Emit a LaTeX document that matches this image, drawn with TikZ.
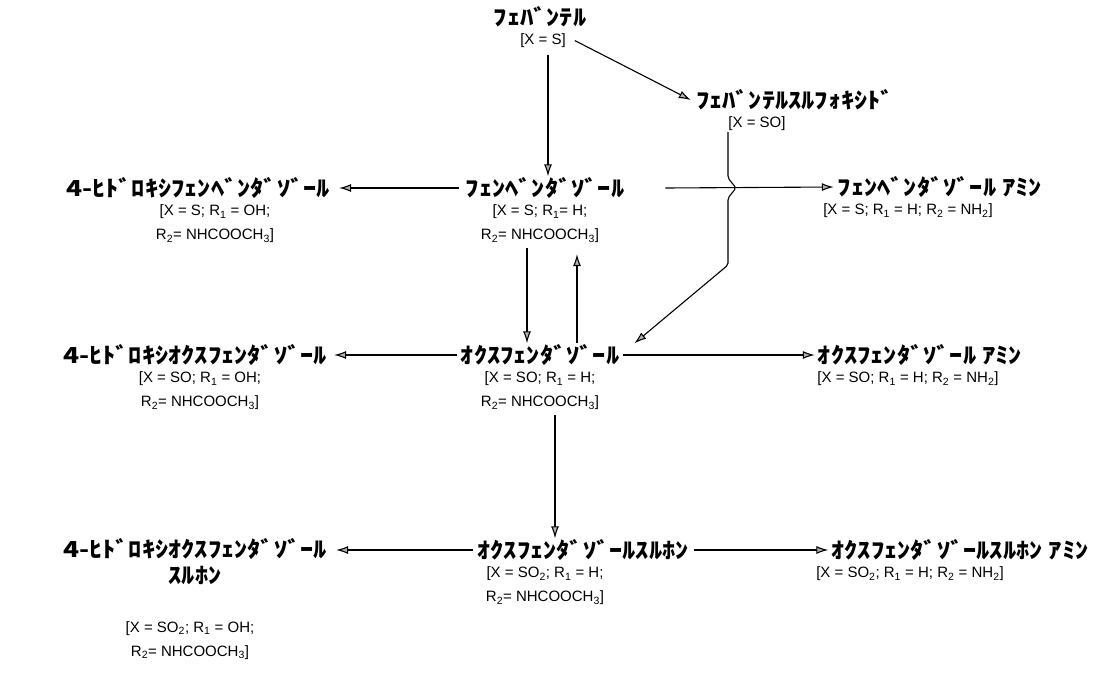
\documentclass[tikz,border=0pt]{standalone}
\usepackage{fontspec}
\setmainfont{Liberation Sans}
\newfontfamily\jpfont{Noto Sans CJK JP}[FakeStretch=1.2]
\usetikzlibrary{positioning,arrows.meta}

\begin{document}
\begin{tikzpicture}[x=1pt,y=-1pt,
      ttl/.style ={font=\jpfont\bfseries\fontsize{22}{26}\selectfont,inner sep=1pt,align=center},
      lbl/.style ={font=\fontsize{15}{24}\selectfont,inner sep=1pt,align=center},
      arr/.style ={-{Latex[length=12pt,width=8pt,fill=gray!60]},line width=1.1pt}]
      \useasboundingbox (0,0) rectangle (1115,680);
      % Helper macro: title and formula below it
      \newcommand{\cmpd}[6]{%
        \node[ttl] (#1) at (#2) {#3};
        \node[lbl,below=#5 of #1,xshift=#4] (#1l) {#6};
      }
      % Compounds
      \cmpd{fbt}{540,17}{ﾌｪﾊﾞﾝﾃﾙ}{3pt}{4pt}{[X = S]}
      \cmpd{fbtso}{795,100}{ﾌｪﾊﾞﾝﾃﾙｽﾙﾌｫｷｼﾄﾞ}{-38pt}{4pt}{[X = SO]}
      \cmpd{fbz}{545,188}{ﾌｪﾝﾍﾞﾝﾀﾞｿﾞｰﾙ}{-5pt}{4pt}{[X = S; R\textsubscript{1}= H;\\R\textsubscript{2}= NHCOOCH\textsubscript{3}]}
      \cmpd{ohfbz}{198,188}{4-ﾋﾄﾞﾛｷｼﾌｪﾝﾍﾞﾝﾀﾞｿﾞｰﾙ}{17pt}{4pt}{[X = S; R\textsubscript{1} = OH;\\R\textsubscript{2}= NHCOOCH\textsubscript{3}]}
      \cmpd{fbzam}{940,187}{ﾌｪﾝﾍﾞﾝﾀﾞｿﾞｰﾙ ｱﾐﾝ}{-32pt}{4pt}{[X = S; R\textsubscript{1} = H; R\textsubscript{2} = NH\textsubscript{2}]}
      \cmpd{ofz}{540,355}{ｵｸｽﾌｪﾝﾀﾞｿﾞｰﾙ}{0pt}{4pt}{[X = SO; R\textsubscript{1} = H;\\R\textsubscript{2}= NHCOOCH\textsubscript{3}]}
      \cmpd{ohofz}{195,355}{4-ﾋﾄﾞﾛｷｼｵｸｽﾌｪﾝﾀﾞｿﾞｰﾙ}{5pt}{4pt}{[X = SO; R\textsubscript{1} = OH;\\R\textsubscript{2}= NHCOOCH\textsubscript{3}]}
      \cmpd{ofzam}{920,355}{ｵｸｽﾌｪﾝﾀﾞｿﾞｰﾙ ｱﾐﾝ}{-12pt}{4pt}{[X = SO; R\textsubscript{1} = H; R\textsubscript{2} = NH\textsubscript{2}]}
      \cmpd{so2}{583,550}{ｵｸｽﾌｪﾝﾀﾞｿﾞｰﾙｽﾙﾎﾝ}{-38pt}{4pt}{[X = SO\textsubscript{2}; R\textsubscript{1} = H;\\R\textsubscript{2}= NHCOOCH\textsubscript{3}]}
      \cmpd{ohso2}{195,562}{4-ﾋﾄﾞﾛｷｼｵｸｽﾌｪﾝﾀﾞｿﾞｰﾙ\\ｽﾙﾎﾝ}{-5pt}{34pt}{[X = SO\textsubscript{2}; R\textsubscript{1} = OH;\\R\textsubscript{2}= NHCOOCH\textsubscript{3}]}
      \cmpd{so2am}{960,550}{ｵｸｽﾌｪﾝﾀﾞｿﾞｰﾙｽﾙﾎﾝ ｱﾐﾝ}{-50pt}{4pt}{[X = SO\textsubscript{2}; R\textsubscript{1} = H; R\textsubscript{2} = NH\textsubscript{2}]}
      \coordinate (ohso2e) at ([xshift=8pt]ohso2.east);
      \coordinate (hop) at (728,188);
      % Top arrows
      \draw[arr] ([xshift=5pt,yshift=-6pt]fbtl.south) -- ([xshift=5pt]fbtl.south |- fbz.north);
      \draw[arr] ([xshift=8pt]fbtl.east) -- ([xshift=-4pt]fbtso.west);
      % Fenbendazole row
      \draw[arr] ([xshift=-6pt]fbz.west) -- ([xshift=8pt]ohfbz.east);
      \draw[arr] ([xshift=40pt]fbz.east) -- ([xshift=-3pt]fbzam.west);
      % Sulfoxide down to oxfendazole, jumping over the row arrow
      \draw[arr,rounded corners=2pt] (fbtsol.south -| hop) -- ([yshift=10pt]hop)
        -- ([xshift=8pt]hop) -- ([yshift=-10pt]hop) -- (728,265) -- ([xshift=14pt]ofz.north east);
      % Fenbendazole <-> oxfendazole
      \draw[arr] ([xshift=-13pt,yshift=-4pt]fbzl.south) -- ([xshift=-13pt]fbzl.south |- ofz.north);
      \draw[arr] ([xshift=37pt]fbzl.south |- ofz.north) -- ([xshift=37pt,yshift=-10pt]fbzl.south);
      % Oxfendazole row
      \draw[arr] ([xshift=-3pt]ofz.west) -- ([xshift=6pt]ohofz.east);
      \draw[arr] ([xshift=3pt]ofz.east) -- ([xshift=-2pt]ofzam.west);
      \draw[arr] ([xshift=15pt,yshift=-4pt]ofzl.south) -- ([xshift=15pt]ofzl.south |- so2.north);
      % Sulfone row
      \draw[arr] ([xshift=-3pt]so2.west) -- (ohso2e |- so2.west);
      \draw[arr] ([xshift=4pt]so2.east) -- ([xshift=-2pt]so2am.west);
\end{tikzpicture}
\end{document}
